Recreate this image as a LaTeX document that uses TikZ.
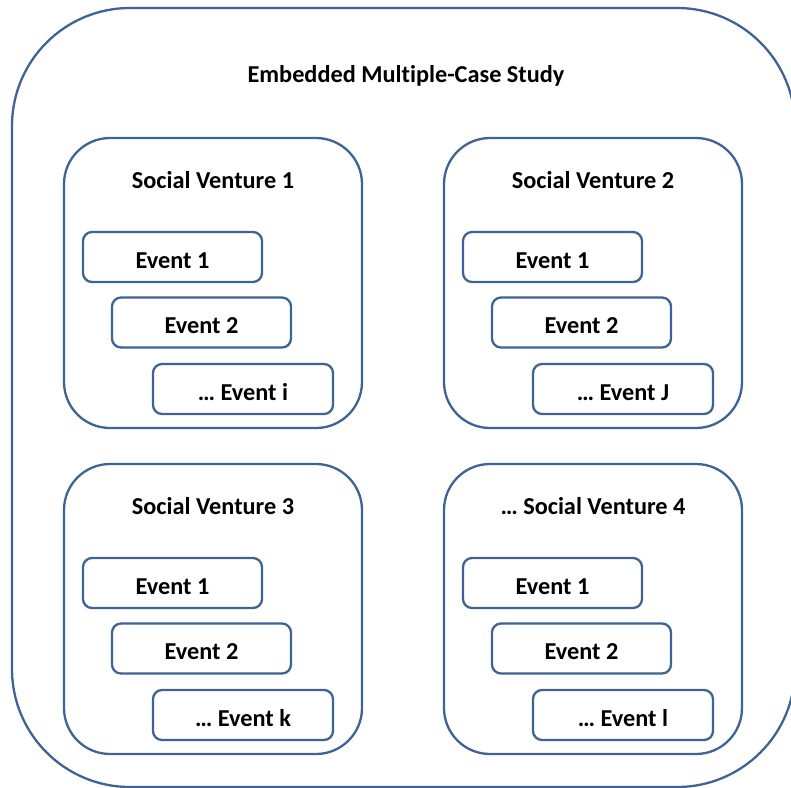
\documentclass[tikz,border=0pt]{standalone}
\usepackage{fontspec}
\setmainfont{Carlito}[Ligatures=NoCommon]
\definecolor{frame}{RGB}{62,99,148}
\begin{document}
\begin{tikzpicture}[x=1pt,y=-1pt,
  box/.style={draw=frame, line width=2.3pt, inner sep=0pt, outer sep=0pt},
  casebox/.style={box, rounded corners=118pt, minimum width=783pt, minimum height=779pt},
  venture/.style={box, rounded corners=46pt, minimum width=298pt, minimum height=290pt},
  eventbox/.style={box, rounded corners=9pt, minimum width=179pt, minimum height=50pt,
    text height=23pt, text depth=1pt, font=\fontsize{24.3}{29}\selectfont\bfseries},
  heading/.style={anchor=base, inner sep=0pt, font=\fontsize{24.3}{29}\selectfont\bfseries}
]
\useasboundingbox (0,0) rectangle (791,787);

% the study as a whole
\node[casebox] (case) at (403.5,397.5) {};
\node[heading] (case-title) at (406,82) {Embedded Multiple-Case Study};

% one box per venture, each holding its events
\foreach \k/\dx/\dy/\title/\last in {
    1/0/0/Social Venture 1/… Event i,
    2/380/0/Social Venture 2/… Event J,
    3/0/326/Social Venture 3/… Event k,
    4/380/326/… Social Venture 4/… Event l}{
  \begin{scope}[shift={(\dx,\dy)}]
    \node[venture] (v\k) at (213,283) {};
    \node[heading] (v\k-title) at (213,188) {\title};
    \node[eventbox] (v\k-e1) at (172.5,257) {Event 1};
    \node[eventbox] (v\k-e2) at (201.5,322.5) {Event 2};
    \node[eventbox, minimum width=180pt] (v\k-e3) at (243,389) {\last};
  \end{scope}
}
\end{tikzpicture}
\end{document}
